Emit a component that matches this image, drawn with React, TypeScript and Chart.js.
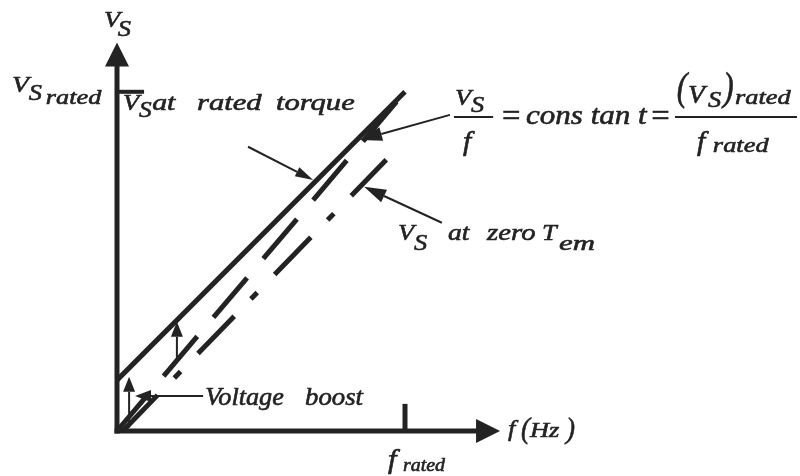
import React, { useEffect, useRef } from "react";
import { Chart, registerables } from "chart.js";

Chart.register(...registerables);

// Per-unit quantities: f / f_rated and V_S / (V_S)_rated
const fRated = 1;
const vsRated = 1;
const voltageBoost = 0.15;

// V_S at rated torque (boosted V/f line)
const ratedTorqueF = [0, fRated];
const ratedTorqueVs = [voltageBoost, vsRated];

// V_S / f = constant (through the origin)
const constantRatioF = [0, fRated];
const constantRatioVs = [0, vsRated];

// V_S at zero electromagnetic torque
const zeroTorqueF = [0.02, 0.935];
const zeroTorqueVs = [0, 0.8];

// Axis extents (arrow tips)
const fAxisEnd = 1.33;
const vsAxisEnd = 1.145;

const INK = "#232323";
const FONT = '"Liberation Serif"';

type Piece = [string, number, number, number, number]; // text, f, Vs, size, x-stretch

const labelPieces: Piece[] = [
  // vertical axis title
  ["V", -0.045, 1.192, 24, 1.1],
  ["S", 0.003, 1.165, 24, 1.1],
  // rated voltage tick label
  ["V", -0.365, 1.0, 24, 1.15],
  ["S", -0.306, 0.976, 24, 1.1],
  ["rated", -0.247, 0.965, 21, 1.25],
  // V_S at rated torque
  ["V", 0.021, 0.947, 23, 1.15],
  ["S", 0.076, 0.926, 23, 1.1],
  ["at", 0.122, 0.947, 23, 1.3],
  ["rated", 0.278, 0.947, 23, 1.33],
  ["torque", 0.552, 0.947, 23, 1.33],
  // V_S / f = constant = (V_S)_rated / f_rated
  ["V", 1.174, 0.962, 24, 1.1],
  ["S", 1.229, 0.941, 24, 1.1],
  ["f", 1.201, 0.829, 27, 1.1],
  ["=", 1.33, 0.9, 31, 1.05],
  ["cons tan t", 1.42, 0.906, 27, 1.15],
  ["=", 1.848, 0.9, 31, 1.05],
  ["(", 1.944, 0.976, 40, 0.8],
  ["V", 1.983, 0.968, 25, 1.1],
  ["S", 2.052, 0.956, 24, 1.1],
  [")", 2.104, 0.976, 40, 0.8],
  ["rated", 2.146, 0.965, 22, 1.2],
  ["f", 2.014, 0.829, 27, 1.1],
  ["rated", 2.069, 0.823, 22, 1.2],
  // V_S at zero T_em
  ["V", 0.976, 0.563, 24, 1.1],
  ["S", 1.031, 0.534, 24, 1.1],
  ["at", 1.149, 0.563, 23, 1.2],
  ["zero", 1.285, 0.563, 23, 1.25],
  ["T", 1.476, 0.563, 24, 1.1],
  ["em", 1.535, 0.534, 22, 1.4],
  // Voltage boost
  ["Voltage", 0.306, 0.077, 25, 1.05],
  ["boost", 0.653, 0.077, 25, 1.07],
  // f (Hz)
  ["f", 1.358, -0.015, 24, 1.1],
  ["(", 1.403, -0.021, 30, 0.9],
  ["Hz", 1.434, -0.018, 22, 1.2],
  [")", 1.559, -0.021, 30, 0.9],
  // f_rated
  ["f", 0.941, -0.109, 28, 1.1],
  ["rated", 0.993, -0.118, 19, 1.05],
];

// fraction bars: f start, f end, Vs
const fractionBars: [number, number, number][] = [
  [1.17, 1.306, 0.926],
  [1.9375, 2.361, 0.926],
];

// pointer arrows: tail f, tail Vs, tip f, tip Vs, head length, head half-width
const pointers: [number, number, number, number, number, number][] = [
  [0.455, 0.838, 0.681, 0.74, 18, 5],
  [1.156, 0.932, 0.844, 0.858, 22, 7],
  [1.128, 0.614, 0.858, 0.72, 22, 7],
  [0.299, 0.103, 0.0625, 0.103, 16, 6],
  [0.042, 0.01, 0.042, 0.16, 15, 6],
  [0.208, 0.209, 0.208, 0.322, 15, 6],
];

function toPoints(xs: number[], ys: number[]) {
  return xs.map((x, i) => ({ x, y: ys[i] }));
}

function arrowHead(
  ctx: CanvasRenderingContext2D,
  x1: number,
  y1: number,
  x2: number,
  y2: number,
  len: number,
  half: number
) {
  const a = Math.atan2(y2 - y1, x2 - x1);
  const bx = x2 - Math.cos(a) * len;
  const by = y2 - Math.sin(a) * len;
  ctx.beginPath();
  ctx.moveTo(x2, y2);
  ctx.lineTo(bx + Math.sin(a) * half, by - Math.cos(a) * half);
  ctx.lineTo(bx - Math.sin(a) * half, by + Math.cos(a) * half);
  ctx.closePath();
  ctx.fill();
  return { bx, by };
}

const diagramPlugin = {
  id: "vfDiagram",
  beforeDatasetsDraw(chart: any) {
    const ctx: CanvasRenderingContext2D = chart.ctx;
    const xs = chart.scales.x;
    const ys = chart.scales.y;
    const px = (v: number) => xs.getPixelForValue(v);
    const py = (v: number) => ys.getPixelForValue(v);
    ctx.save();
    ctx.strokeStyle = INK;
    ctx.fillStyle = INK;
    ctx.lineCap = "butt";
    ctx.lineWidth = 5;
    const ox = px(0);
    const oy = py(0);
    // vertical axis
    const vTip = py(vsAxisEnd);
    ctx.beginPath();
    ctx.moveTo(ox, oy + 2.5);
    ctx.lineTo(ox, vTip + 20);
    ctx.stroke();
    arrowHead(ctx, ox, oy, ox, vTip, 24, 12);
    // horizontal axis
    const fTip = px(fAxisEnd);
    ctx.beginPath();
    ctx.moveTo(ox - 2.5, oy);
    ctx.lineTo(fTip - 20, oy);
    ctx.stroke();
    arrowHead(ctx, ox, oy, fTip, oy, 24, 12);
    // rated ticks
    ctx.lineWidth = 4;
    ctx.beginPath();
    ctx.moveTo(ox, py(vsRated));
    ctx.lineTo(px(0.094), py(vsRated));
    ctx.stroke();
    ctx.lineWidth = 5;
    ctx.beginPath();
    ctx.moveTo(px(fRated), oy);
    ctx.lineTo(px(fRated), py(0.08));
    ctx.stroke();
    ctx.restore();
  },
  afterDatasetsDraw(chart: any) {
    const ctx: CanvasRenderingContext2D = chart.ctx;
    const xs = chart.scales.x;
    const ys = chart.scales.y;
    const px = (v: number) => xs.getPixelForValue(v);
    const py = (v: number) => ys.getPixelForValue(v);
    ctx.save();
    ctx.strokeStyle = INK;
    ctx.fillStyle = INK;
    // pointer arrows
    for (const [f1, v1, f2, v2, len, half] of pointers) {
      const x1 = px(f1), y1 = py(v1), x2 = px(f2), y2 = py(v2);
      const { bx, by } = arrowHead(ctx, x1, y1, x2, y2, len, half);
      ctx.lineWidth = 2;
      ctx.beginPath();
      ctx.moveTo(x1, y1);
      ctx.lineTo(bx, by);
      ctx.stroke();
    }
    // fraction bars
    ctx.lineWidth = 2;
    for (const [f1, f2, v] of fractionBars) {
      ctx.beginPath();
      ctx.moveTo(px(f1), py(v));
      ctx.lineTo(px(f2), py(v));
      ctx.stroke();
    }
    // text, slightly emboldened with a thin outline
    ctx.textAlign = "left";
    ctx.textBaseline = "alphabetic";
    ctx.lineJoin = "round";
    for (const [t, f, v, size, sx] of labelPieces) {
      ctx.save();
      ctx.font = `italic ${size}px ${FONT}`;
      ctx.translate(px(f), py(v));
      ctx.scale(sx, 1);
      ctx.lineWidth = 0.6;
      ctx.fillText(t, 0, 0);
      ctx.strokeText(t, 0, 0);
      ctx.restore();
    }
    ctx.restore();
  },
};

export default function App() {
  const canvasRef = useRef<HTMLCanvasElement>(null);

  useEffect(() => {
    if (!canvasRef.current) return;
    const chart = new Chart(canvasRef.current, {
      type: "line",
      data: {
        datasets: [
          {
            label: "V_S at rated torque",
            data: toPoints(ratedTorqueF, ratedTorqueVs),
            borderColor: INK,
            borderWidth: 5,
            pointRadius: 0,
            borderCapStyle: "butt",
          },
          {
            label: "V_S / f = constant",
            data: toPoints(constantRatioF, constantRatioVs),
            borderColor: INK,
            borderWidth: 5,
            pointRadius: 0,
            borderDash: [52, 25],
            borderDashOffset: 5,
            borderCapStyle: "butt",
          },
          {
            label: "V_S at zero T_em",
            data: toPoints(zeroTorqueF, zeroTorqueVs),
            borderColor: INK,
            borderWidth: 5,
            pointRadius: 0,
            borderDash: [52, 24, 9, 25],
            borderDashOffset: 2,
            borderCapStyle: "butt",
          },
        ],
      },
      options: {
        responsive: false,
        animation: false,
        events: [],
        clip: false,
        layout: { padding: { left: 117, right: 251, top: 7, bottom: 45 } },
        plugins: { legend: { display: false }, tooltip: { enabled: false } },
        scales: {
          x: { type: "linear", min: 0, max: 1.5, display: false },
          y: { type: "linear", min: 0, max: 1.25, display: false },
        },
      },
      plugins: [diagramPlugin],
    } as any);
    return () => chart.destroy();
  }, []);

  return (
    <div
      style={{
        position: "fixed",
        left: 0,
        top: 0,
        width: 800,
        height: 476,
        background: "#fff",
      }}
    >
      <canvas ref={canvasRef} width={800} height={476} style={{ display: "block" }} />
    </div>
  );
}
